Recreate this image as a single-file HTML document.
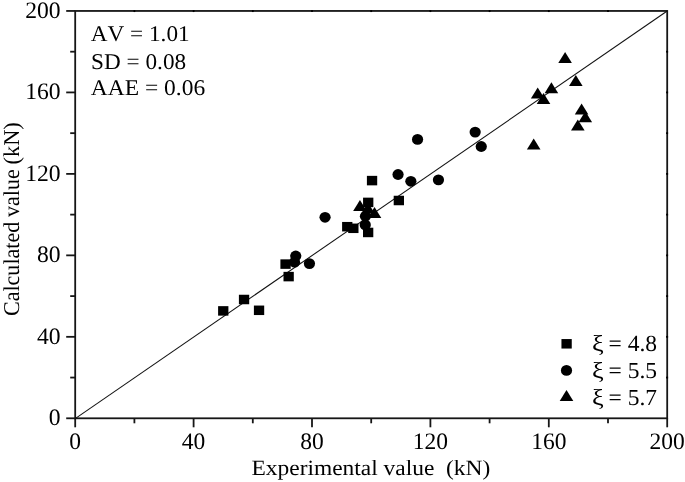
<!DOCTYPE html>
<html lang="en"><head><meta charset="utf-8"><title>Calculated vs experimental value</title>
<style>html,body{margin:0;padding:0;background:#fff;}body{width:685px;height:482px;overflow:hidden;}svg{display:block;transform:translateZ(0);will-change:transform;}text{font-family:"Liberation Serif","Times New Roman",serif;fill:#000;font-kerning:none;text-rendering:geometricPrecision;}</style></head><body>
<svg width="685" height="482" viewBox="0 0 685 482">
<rect width="685" height="482" fill="#fff"/>
<g stroke="#161616" stroke-width="1.8" fill="none">
<rect x="75.2" y="10.95" width="592.00" height="407.35"/>
<line x1="75.20" y1="418.3" x2="75.20" y2="427.3"/>
<line x1="75.2" y1="418.30" x2="66.2" y2="418.30"/>
<line x1="134.40" y1="418.3" x2="134.40" y2="423.3"/>
<line x1="75.2" y1="377.56" x2="70.2" y2="377.56"/>
<line x1="193.60" y1="418.3" x2="193.60" y2="427.3"/>
<line x1="75.2" y1="336.83" x2="66.2" y2="336.83"/>
<line x1="252.80" y1="418.3" x2="252.80" y2="423.3"/>
<line x1="75.2" y1="296.10" x2="70.2" y2="296.10"/>
<line x1="312.00" y1="418.3" x2="312.00" y2="427.3"/>
<line x1="75.2" y1="255.36" x2="66.2" y2="255.36"/>
<line x1="371.20" y1="418.3" x2="371.20" y2="423.3"/>
<line x1="75.2" y1="214.62" x2="70.2" y2="214.62"/>
<line x1="430.40" y1="418.3" x2="430.40" y2="427.3"/>
<line x1="75.2" y1="173.89" x2="66.2" y2="173.89"/>
<line x1="489.60" y1="418.3" x2="489.60" y2="423.3"/>
<line x1="75.2" y1="133.16" x2="70.2" y2="133.16"/>
<line x1="548.80" y1="418.3" x2="548.80" y2="427.3"/>
<line x1="75.2" y1="92.42" x2="66.2" y2="92.42"/>
<line x1="608.00" y1="418.3" x2="608.00" y2="423.3"/>
<line x1="75.2" y1="51.69" x2="70.2" y2="51.69"/>
<line x1="667.20" y1="418.3" x2="667.20" y2="427.3"/>
<line x1="75.2" y1="10.95" x2="66.2" y2="10.95"/>
<line x1="134.40" y1="10.049999999999999" x2="134.40" y2="12.049999999999999" stroke="#000"/>
<line x1="666.1" y1="377.56" x2="668.1" y2="377.56" stroke="#000"/>
<line x1="193.60" y1="10.049999999999999" x2="193.60" y2="12.049999999999999" stroke="#000"/>
<line x1="666.1" y1="336.83" x2="668.1" y2="336.83" stroke="#000"/>
<line x1="252.80" y1="10.049999999999999" x2="252.80" y2="12.049999999999999" stroke="#000"/>
<line x1="666.1" y1="296.10" x2="668.1" y2="296.10" stroke="#000"/>
<line x1="312.00" y1="10.049999999999999" x2="312.00" y2="12.049999999999999" stroke="#000"/>
<line x1="666.1" y1="255.36" x2="668.1" y2="255.36" stroke="#000"/>
<line x1="371.20" y1="10.049999999999999" x2="371.20" y2="12.049999999999999" stroke="#000"/>
<line x1="666.1" y1="214.62" x2="668.1" y2="214.62" stroke="#000"/>
<line x1="430.40" y1="10.049999999999999" x2="430.40" y2="12.049999999999999" stroke="#000"/>
<line x1="666.1" y1="173.89" x2="668.1" y2="173.89" stroke="#000"/>
<line x1="489.60" y1="10.049999999999999" x2="489.60" y2="12.049999999999999" stroke="#000"/>
<line x1="666.1" y1="133.16" x2="668.1" y2="133.16" stroke="#000"/>
<line x1="548.80" y1="10.049999999999999" x2="548.80" y2="12.049999999999999" stroke="#000"/>
<line x1="666.1" y1="92.42" x2="668.1" y2="92.42" stroke="#000"/>
<line x1="608.00" y1="10.049999999999999" x2="608.00" y2="12.049999999999999" stroke="#000"/>
<line x1="666.1" y1="51.69" x2="668.1" y2="51.69" stroke="#000"/>
</g>
<line x1="75.2" y1="418.6" x2="667.2" y2="11.049999999999999" stroke="#111" stroke-width="1.05"/>
<g fill="#000">
<rect x="218.10" y="306.15" width="10.3" height="9.5"/>
<rect x="238.90" y="294.75" width="10.3" height="9.5"/>
<rect x="253.90" y="305.55" width="10.3" height="9.5"/>
<rect x="283.50" y="271.85" width="10.3" height="9.5"/>
<rect x="280.40" y="259.35" width="10.3" height="9.5"/>
<rect x="366.90" y="175.85" width="10.3" height="9.5"/>
<rect x="393.70" y="195.75" width="10.3" height="9.5"/>
<rect x="363.06" y="197.65" width="10.3" height="9.5"/>
<rect x="342.10" y="221.95" width="10.3" height="9.5"/>
<rect x="348.20" y="223.55" width="10.3" height="9.5"/>
<rect x="363.00" y="227.70" width="10.3" height="9.5"/>
<ellipse cx="295.75" cy="256.00" rx="5.6" ry="5.4"/>
<ellipse cx="309.45" cy="263.60" rx="5.6" ry="5.4"/>
<ellipse cx="294.55" cy="262.20" rx="5.6" ry="5.4"/>
<ellipse cx="325.05" cy="217.30" rx="5.6" ry="5.4"/>
<ellipse cx="365.45" cy="216.30" rx="5.6" ry="5.4"/>
<ellipse cx="365.25" cy="224.90" rx="5.6" ry="5.4"/>
<ellipse cx="398.05" cy="174.50" rx="5.6" ry="5.4"/>
<ellipse cx="410.85" cy="181.30" rx="5.6" ry="5.4"/>
<ellipse cx="438.45" cy="179.90" rx="5.6" ry="5.4"/>
<ellipse cx="417.55" cy="139.40" rx="5.6" ry="5.4"/>
<ellipse cx="475.15" cy="132.10" rx="5.6" ry="5.4"/>
<ellipse cx="481.25" cy="146.50" rx="5.6" ry="5.4"/>
<polygon points="359.95,200.10 353.15,211.10 366.75,211.10"/>
<polygon points="374.50,206.90 367.70,217.90 381.30,217.90"/>
<polygon points="368.00,202.60 361.20,213.60 374.80,213.60"/>
<polygon points="565.10,51.90 558.30,62.90 571.90,62.90"/>
<polygon points="575.80,75.10 569.00,86.10 582.60,86.10"/>
<polygon points="551.40,82.30 544.60,93.30 558.20,93.30"/>
<polygon points="537.70,87.50 530.90,98.50 544.50,98.50"/>
<polygon points="543.50,93.00 536.70,104.00 550.30,104.00"/>
<polygon points="581.60,103.50 574.80,114.50 588.40,114.50"/>
<polygon points="585.30,111.20 578.50,122.20 592.10,122.20"/>
<polygon points="577.80,119.40 571.00,130.40 584.60,130.40"/>
<polygon points="533.70,138.60 526.90,149.60 540.50,149.60"/>
<rect x="561.45" y="339.05" width="10.3" height="9.5"/>
<ellipse cx="566.5" cy="370.4" rx="5.6" ry="5.4"/>
<polygon points="566.5,390.1 559.7,401.1 573.3,401.1"/>
</g>
<g font-size="23.6">
<text x="69.33" y="449.4" textLength="11.75" lengthAdjust="spacingAndGlyphs">0</text>
<text x="48.79" y="425.30" textLength="11.81" lengthAdjust="spacingAndGlyphs">0</text>
<text x="181.85" y="449.4" textLength="23.50" lengthAdjust="spacingAndGlyphs">40</text>
<text x="36.99" y="343.83" textLength="23.61" lengthAdjust="spacingAndGlyphs">40</text>
<text x="300.25" y="449.4" textLength="23.50" lengthAdjust="spacingAndGlyphs">80</text>
<text x="36.99" y="262.36" textLength="23.61" lengthAdjust="spacingAndGlyphs">80</text>
<text x="412.78" y="449.4" textLength="35.24" lengthAdjust="spacingAndGlyphs">120</text>
<text x="25.18" y="180.89" textLength="35.42" lengthAdjust="spacingAndGlyphs">120</text>
<text x="531.18" y="449.4" textLength="35.24" lengthAdjust="spacingAndGlyphs">160</text>
<text x="25.18" y="99.42" textLength="35.42" lengthAdjust="spacingAndGlyphs">160</text>
<text x="649.58" y="449.4" textLength="35.24" lengthAdjust="spacingAndGlyphs">200</text>
<text x="25.18" y="17.95" textLength="35.42" lengthAdjust="spacingAndGlyphs">200</text>
</g>
<text x="251.5" y="474.7" font-size="21.8" textLength="238.8" lengthAdjust="spacingAndGlyphs" xml:space="preserve">Experimental value  (kN)</text>
<text transform="translate(18.8,316.0) rotate(-90)" font-size="22.6" textLength="94.2" lengthAdjust="spacingAndGlyphs">Calculated</text>
<text transform="translate(18.8,216.9) rotate(-90)" font-size="22.6" textLength="47.6" lengthAdjust="spacingAndGlyphs">value</text>
<text transform="translate(18.8,164.4) rotate(-90)" font-size="22.6" textLength="42.2" lengthAdjust="spacingAndGlyphs">(kN)</text>
<g font-size="23">
<text x="90.8" y="41" font-size="22.5" textLength="98.79" lengthAdjust="spacingAndGlyphs">AV = 1.01</text>
<text x="91.1" y="68.7" font-size="22.5" textLength="95.05" lengthAdjust="spacingAndGlyphs">SD = 0.08</text>
<text x="90.8" y="94.7" font-size="22.5" textLength="114.38" lengthAdjust="spacingAndGlyphs">AAE = 0.06</text>
<text x="592.1" y="351" font-size="23" textLength="11.7" lengthAdjust="spacingAndGlyphs">ξ</text>
<text x="608.56" y="351" font-size="23" textLength="48.5" lengthAdjust="spacingAndGlyphs">= 4.8</text>
<text x="592.1" y="377.9" font-size="23" textLength="11.7" lengthAdjust="spacingAndGlyphs">ξ</text>
<text x="608.56" y="377.9" font-size="23" textLength="48.5" lengthAdjust="spacingAndGlyphs">= 5.5</text>
<text x="592.1" y="404.6" font-size="23" textLength="11.7" lengthAdjust="spacingAndGlyphs">ξ</text>
<text x="608.56" y="404.6" font-size="23" textLength="48.5" lengthAdjust="spacingAndGlyphs">= 5.7</text>
</g>
</svg></body></html>
